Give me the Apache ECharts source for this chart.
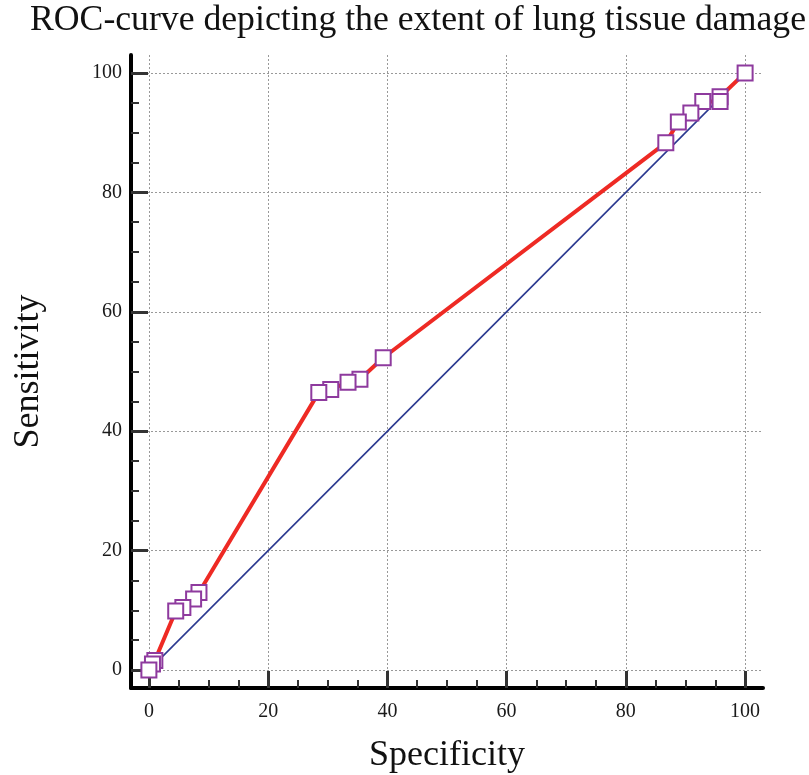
<!DOCTYPE html>
<html>
<head>
<meta charset="utf-8">
<script src="https://cdn.jsdelivr.net/npm/echarts@6/dist/echarts.min.js"></script>
<style>html,body{margin:0;padding:0;background:#fff;}#c{width:809px;height:775px;}</style>
</head>
<body>
<div id="c"></div>
<script>
// ROC points (listed from (100,100) down to (0,0))
const specificity = [100, 95.8, 95.8, 92.9, 90.9, 88.8, 86.7, 39.3, 35.4, 33.4, 30.5, 28.5, 8.4, 7.5, 5.7, 4.5, 1.0, 0.6, 0];
const sensitivity = [100, 96.0, 95.2, 95.2, 93.3, 91.8, 88.3, 52.3, 48.7, 48.2, 47.0, 46.5, 13.0, 11.9, 10.5, 9.9, 1.6, 1.0, 0];
const diagonalX = [0, 100];
const diagonalY = [0, 100];
const majorTicks = [0, 20, 40, 60, 80, 100];
const minorTicks = [5, 10, 15, 25, 30, 35, 45, 50, 55, 65, 70, 75, 85, 90, 95];

const titleText = 'ROC-curve depicting the extent of lung tissue damage';
const xName = 'Specificity';
const yName = 'Sensitivity';

const serif = '"Liberation Serif", "DejaVu Serif", serif';
const roc = specificity.map((v, i) => [v, sensitivity[i]]);
const diag = diagonalX.map((v, i) => [v, diagonalY[i]]);

function majorAxis(dim) {
  const isX = dim === 'x';
  return {
    type: 'value', min: -3, max: 103, gridIndex: 0,
    position: isX ? 'bottom' : 'left',
    name: isX ? xName : yName,
    nameLocation: 'middle',
    nameGap: isX ? 50 : 84,
    nameTextStyle: { fontFamily: serif, fontSize: 36, color: '#111' },
    axisLine: { show: true, onZero: false, lineStyle: { color: '#000', width: 4 } },
    axisTick: { show: true, inside: true, length: 17, customValues: majorTicks, lineStyle: { color: '#333', width: 3 } },
    axisLabel: { show: true, customValues: majorTicks, fontFamily: serif, fontSize: 20, color: '#1a1a1a', margin: isX ? 14 : 9 },
    splitLine: { show: true, lineStyle: { color: '#999', width: 1, type: [2, 2] } },
    minorTick: { show: false }
  };
}
function minorAxis(dim) {
  const isX = dim === 'x';
  return {
    type: 'value', min: -3, max: 103, gridIndex: 0,
    position: isX ? 'bottom' : 'left',
    axisLine: { show: false, onZero: false },
    axisTick: { show: true, inside: true, length: 8, customValues: minorTicks, lineStyle: { color: '#333', width: 2 } },
    axisLabel: { show: false },
    splitLine: { show: false }
  };
}

const chart = echarts.init(document.getElementById('c'), null, { renderer: 'canvas' });
chart.setOption({
  animation: false,
  backgroundColor: '#fff',
  title: {
    text: titleText, left: 30, top: 3, padding: 0,
    textStyle: { fontFamily: serif, fontSize: 35.7, fontWeight: 'normal', color: '#111' }
  },
  grid: { left: 131, right: 46, top: 55, bottom: 87, containLabel: false, outerBoundsMode: 'none' },
  xAxis: [majorAxis('x'), minorAxis('x')],
  yAxis: [majorAxis('y'), minorAxis('y')],
  series: [
    {
      type: 'line', xAxisIndex: 0, yAxisIndex: 0, data: diag,
      symbol: 'none', lineStyle: { color: '#2b3990', width: 1.6 }, z: 2
    },
    {
      type: 'line', xAxisIndex: 0, yAxisIndex: 0, data: roc,
      symbol: 'rect', symbolSize: 15,
      lineStyle: { color: '#ee2a24', width: 4 },
      itemStyle: { color: '#fff', borderColor: '#8e3a9e', borderWidth: 2 },
      z: 3
    }
  ]
});
</script>
</body>
</html>
